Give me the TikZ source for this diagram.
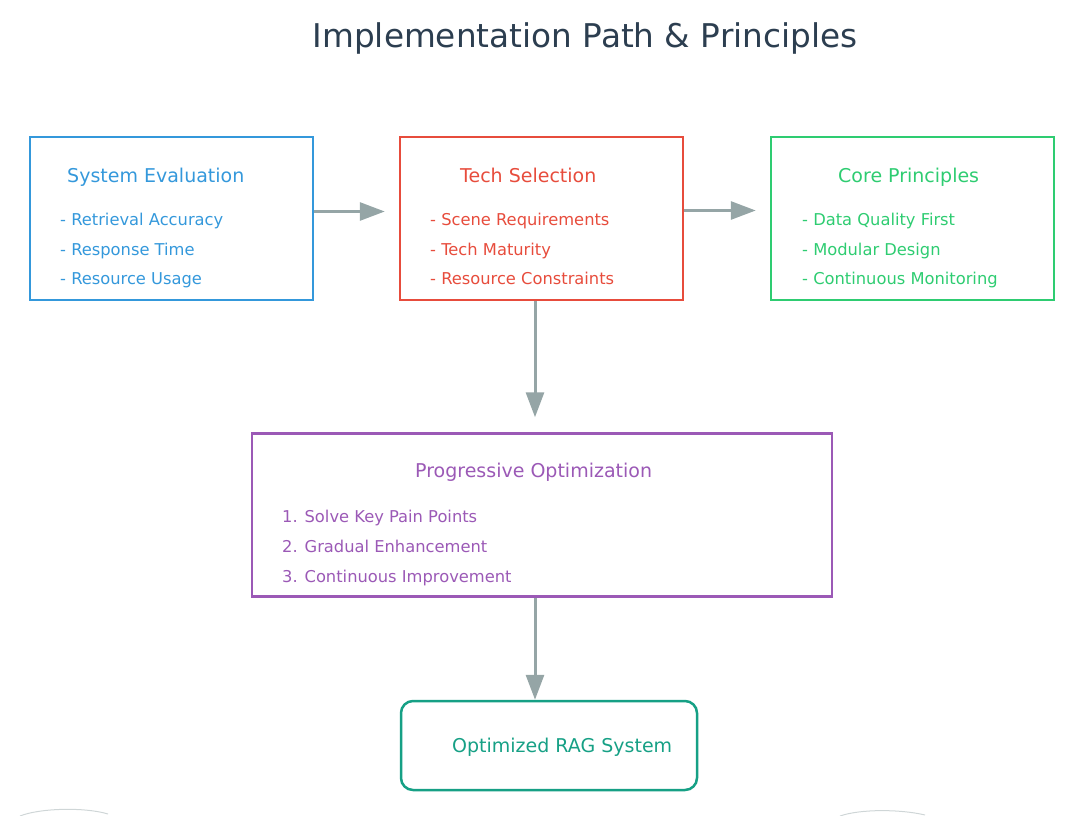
\documentclass[tikz,border=0pt]{standalone}
\usepackage{fontspec}
\setmainfont{DejaVu Sans}
\usetikzlibrary{arrows.meta}

\definecolor{titlegray}{HTML}{2C3E50}
\definecolor{evalblue}{HTML}{3498DB}
\definecolor{techred}{HTML}{E74C3C}
\definecolor{coregreen}{HTML}{2ECC71}
\definecolor{optpurple}{HTML}{9B59B6}
\definecolor{ragteal}{HTML}{16A085}
\definecolor{flowgray}{HTML}{95A5A6}

\tikzset{
  box/.style={draw, line width=2.5pt, minimum width=283pt, minimum height=163pt, inner sep=0pt},
  boxtitle/.style={anchor=base west, inner sep=0pt, font=\fontsize{19}{22}\selectfont},
  item/.style={anchor=base west, inner sep=0pt, font=\fontsize{16.3}{19}\selectfont},
  flow/.style={draw=flowgray, line width=3pt, -{Triangle[length=25pt,width=18pt]}},
}

\begin{document}
\begin{tikzpicture}[x=1pt,y=-1pt]
            \useasboundingbox (0,0) rectangle (1080,816);
            \node[anchor=base, inner sep=0pt, text=titlegray, font=\fontsize{32.7}{38}\selectfont]
                (title) at (585,48) {Implementation Path \& Principles};

            % top row
            \node[box, draw=evalblue] (eval) at (171.5,218.5) {};
            \node[box, draw=techred] (tech) at (541.5,218.5) {};
            \node[box, draw=coregreen] (core) at (912.5,218.5) {};

            \node[boxtitle, text=evalblue] (evalt) at (67,182) {System Evaluation};
            \node[item, text=evalblue] (eval1) at (60,225) {- Retrieval Accuracy};
            \node[item, text=evalblue] (eval2) at (60,255) {- Response Time};
            \node[item, text=evalblue] (eval3) at (60,284) {- Resource Usage};

            \node[boxtitle, text=techred] (techt) at (460,182) {Tech Selection};
            \node[item, text=techred] (tech1) at (430,225) {- Scene Requirements};
            \node[item, text=techred] (tech2) at (430,255) {- Tech Maturity};
            \node[item, text=techred] (tech3) at (430,284) {- Resource Constraints};

            \node[boxtitle, text=coregreen] (coret) at (838,182) {Core Principles};
            \node[item, text=coregreen] (core1) at (802,225) {- Data Quality First};
            \node[item, text=coregreen] (core2) at (802,255) {- Modular Design};
            \node[item, text=coregreen] (core3) at (802,284) {- Continuous Monitoring};

            % middle
            \node[box, draw=optpurple, minimum width=580pt] (opt) at (542,515) {};
            \node[boxtitle, text=optpurple] (optt) at (415,477) {Progressive Optimization};
            \node[item, text=optpurple] (opt1) at (282,522) {1. Solve Key Pain Points};
            \node[item, text=optpurple] (opt2) at (282,552) {2. Gradual Enhancement};
            \node[item, text=optpurple] (opt3) at (282,582) {3. Continuous Improvement};

            % result
            \node[draw=ragteal, line width=2.5pt, rounded corners=12pt, minimum width=296pt,
                minimum height=89pt, inner sep=0pt] (rag) at (549,745.5) {};
            \node[boxtitle, text=ragteal] (ragt) at (452,752) {Optimized RAG System};

            % flow
            \draw[flow, shorten >=14pt] ([yshift=7pt]eval.east) -- ([yshift=7pt]tech.west);
            \draw[flow, shorten >=14pt] ([yshift=8pt]tech.east) -- ([yshift=8pt]core.west);
            \draw[flow, shorten >=15pt] ([xshift=-6.5pt]tech.south) -- ([xshift=-6.5pt]tech.south |- opt.north);
            \draw[flow] ([xshift=-7pt]opt.south) -- ([xshift=-7pt]opt.south |- rag.north);

            % cut-off shapes at the bottom edge
            \draw[flowgray!45, line width=1pt] (20,816) .. controls (40,808) and (85,807) .. (108,814);
            \draw[flowgray!45, line width=1pt] (840,816) .. controls (860,809) and (900,809) .. (925,815);
\end{tikzpicture}
\end{document}
